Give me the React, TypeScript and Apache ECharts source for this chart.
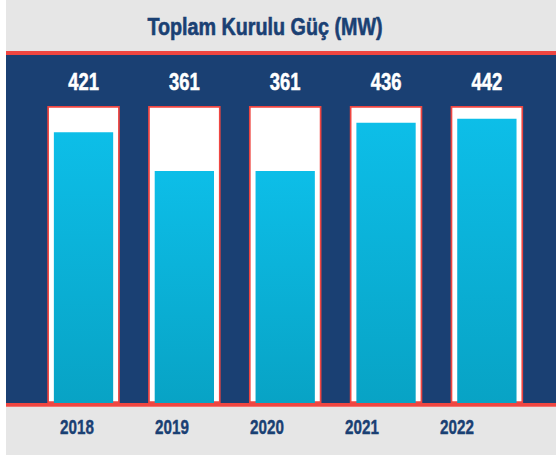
import React, { useEffect, useRef } from "react";
import * as echarts from "echarts";

const years = ["2018", "2019", "2020", "2021", "2022"];
const capacityMW = [421, 361, 361, 436, 442];
const frameTop = 462;
const titleText = "Toplam Kurulu Güç (MW)";

const NAVY = "#1a4073";
const RED = "#ef4641";
const GRAY = "#e6e6e6";
const FONT = "'Liberation Sans', Arial, sans-serif";

export default function App() {
  const ref = useRef<HTMLDivElement>(null);
  useEffect(() => {
    if (!ref.current) return;
    const chart = echarts.init(ref.current, null, { renderer: "svg" });
    chart.setOption({
      animation: false,
      backgroundColor: "#ffffff",
      graphic: [
        { type: "rect", z: -10, shape: { x: 6, y: 0, width: 550, height: 51 }, style: { fill: GRAY } },
        { type: "rect", z: -10, shape: { x: 6, y: 51, width: 550, height: 4 }, style: { fill: RED } },
        { type: "rect", z: -10, shape: { x: 6, y: 55, width: 550, height: 348 }, style: { fill: NAVY } },
        { type: "rect", z: 10, shape: { x: 6, y: 403, width: 550, height: 3.7 }, style: { fill: RED } },
        { type: "rect", z: -10, shape: { x: 6, y: 406.7, width: 550, height: 48.3 }, style: { fill: GRAY } },
        {
          type: "text",
          x: 265,
          y: 27,
          scaleX: 0.84,
          style: {
            text: titleText,
            x: 0,
            y: 0,
            fill: NAVY,
            stroke: NAVY,
            lineWidth: 0.6,
            font: `bold 23.5px ${FONT}`,
            textAlign: "center",
            textVerticalAlign: "middle",
          },
        },
      ],
      grid: [
        { left: 33.1, right: 18.7, top: 106, bottom: 53 },
        { left: 29.5, right: 51.5, top: 106, bottom: 53 },
      ],
      xAxis: [
        { type: "category", data: years, gridIndex: 0, show: false },
        { type: "category", data: years, gridIndex: 0, show: false },
        { type: "category", data: years, gridIndex: 1, show: false },
      ],
      yAxis: [
        { type: "value", min: 0, max: frameTop, show: false, gridIndex: 0, splitLine: { show: false } },
        { type: "value", min: 0, max: frameTop, show: false, gridIndex: 1, splitLine: { show: false } },
      ],
      series: [
        {
          type: "bar",
          xAxisIndex: 0,
          yAxisIndex: 0,
          barWidth: 72.5,
          data: years.map(() => frameTop),
          itemStyle: { color: "#ffffff", borderColor: RED, borderWidth: 1.7 },
          silent: true,
        },
        {
          type: "bar",
          xAxisIndex: 1,
          yAxisIndex: 0,
          barWidth: 59.3,
          data: capacityMW,
          z: 3,
          itemStyle: {
            color: new echarts.graphic.LinearGradient(0, 0, 0, 1, [
              { offset: 0, color: "#0dbee8" },
              { offset: 1, color: "#08a3c5" },
            ]),
          },
        },
        {
          type: "custom",
          xAxisIndex: 0,
          yAxisIndex: 0,
          z: 5,
          silent: true,
          data: capacityMW.map((v, i) => [i, v]),
          renderItem: (params: any, api: any) => {
            const p = api.coord([api.value(0), frameTop]);
            return {
              type: "text",
              x: p[0],
              y: p[1] - 13,
              scaleX: 0.8,
              style: {
                x: 0,
                y: 0,
                text: String(api.value(1)),
                fill: "#ffffff",
                stroke: "#ffffff",
                lineWidth: 0.5,
                fontFamily: FONT,
                fontWeight: "bold",
                fontSize: 23,
                align: "center",
                verticalAlign: "bottom",
              },
            };
          },
        },
        {
          type: "custom",
          xAxisIndex: 2,
          yAxisIndex: 1,
          z: 5,
          silent: true,
          data: years.map((y, i) => [i, y]),
          renderItem: (params: any, api: any) => {
            const idx = params.dataIndex;
            const p = api.coord([idx, 0]);
            return {
              type: "text",
              x: p[0],
              y: p[1] + 24.5,
              scaleX: 0.78,
              style: {
                x: 0,
                y: 0,
                text: years[idx],
                fill: NAVY,
                stroke: NAVY,
                lineWidth: 0.4,
                fontFamily: FONT,
                fontWeight: "bold",
                fontSize: 19.5,
                align: "center",
                verticalAlign: "middle",
              },
            };
          },
        },
      ],
    });
    return () => chart.dispose();
  }, []);
  return (
    <div
      ref={ref}
      style={{ position: "absolute", left: 0, top: 0, width: 556, height: 456 }}
    />
  );
}
